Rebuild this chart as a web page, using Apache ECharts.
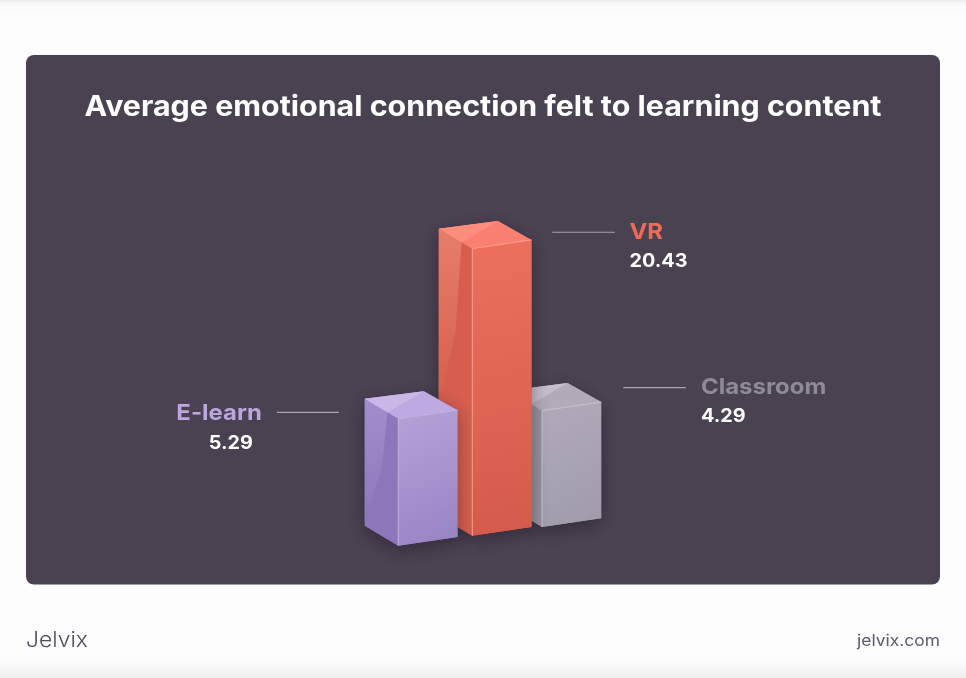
<!DOCTYPE html>
<html>
<head>
<meta charset="utf-8">
<style>html,body{margin:0;padding:0;background:#fdfdfd}#c{width:966px;height:678px}</style>
<script src="https://cdn.jsdelivr.net/npm/echarts@6/dist/echarts.min.js"></script>
</head>
<body>
<div id="c"></div>
<script>
const titleText = 'Average emotional connection felt to learning content';
const categories = ['E-learn', 'VR', 'Classroom'];
const values = [5.29, 20.43, 4.29];
const brandText = 'Jelvix';
const siteText = 'jelvix.com';

const FONT = 'Inter, "Open Sans", sans-serif';
const WIDEN = 1.088; // reference typeface is wider than Inter
// Presentation-only settings for each bar: depth placement, colours, callout placement.
const looks = [
  { dx: 0.3, dy: 0, z: 300, gloss: 122, name: '#bba6de',
    right: ['#b6a2d8', '#9883c4'], left: '#8c77bb', sheen: '#a28ecb', top: '#bfa9e2', wedge: '#c9b7e8', edge: '#c4b2e2',
    line: [-121.5, -59.5, -6.5], nameAt: [-136.5, -5.5], nameAlign: 'right', valueAt: [-167.5, 25], valueAlign: 'center' },
  { dx: 2.3, dy: -10, z: 200, gloss: 177, name: '#ee6c57',
    right: ['#ec705d', '#d45a4a'], left: '#d65e4e', sheen: '#e67d6a', top: '#f98070', wedge: '#ff8d7e', edge: '#f9a193',
    line: [80, 142.5, -16.4], nameAt: [157.2, -16.7], nameAlign: 'left', valueAt: [157.2, 13], valueAlign: 'left' },
  { dx: 0, dy: -18.7, z: 100, gloss: 80, name: '#8f8a99',
    right: ['#b2aaba', '#a09aaa'], left: '#96909f', sheen: '#a7a1af', top: '#b2aab9', wedge: '#c4bec9', edge: '#cbc5cf',
    line: [81.3, 143.7, -23], nameAt: [159, -23.7], nameAlign: 'left', valueAt: [159, 5.3], valueAlign: 'left' }
];

const FACE_W = 59.2, FACE_RISE = 8.7, SIDE_W = 33.5, SIDE_RISE = 20, BACK_W = 25.6;

function poly(points, fill, z2) {
  return { type: 'polygon', z2: z2, shape: { points: points }, style: { fill: fill } };
}

function renderBar(params, api) {
  const i = api.value(0);
  const look = looks[i];
  const topPt = api.coord([i, api.value(1)]);
  const basePt = api.coord([i, -6.7]);
  const h = basePt[1] - topPt[1];
  const fx = topPt[0] + look.dx, fy = topPt[1] + look.dy;
  const z = look.z;

  const F = [fx, fy];
  const R = [fx + FACE_W, fy - FACE_RISE];
  const L = [fx - SIDE_W, fy - SIDE_RISE];
  const B = [fx + BACK_W, fy - FACE_RISE - SIDE_RISE + 1];
  const Fb = [fx, fy + h], Rb = [R[0], R[1] + h], Lb = [L[0], L[1] + h];
  const M = [L[0] + 0.68 * SIDE_W, L[1] + 0.68 * SIDE_RISE];

  const grad = (a, b, x2, y2) => ({ type: 'linear', x: 0, y: 0, x2: x2, y2: y2, colorStops: [{ offset: 0, color: a }, { offset: 1, color: b }] });

  const children = [
    { type: 'polygon', z2: z, shape: { points: [L, B, R, Rb, Fb, Lb] },
      style: { fill: look.left, shadowBlur: 18, shadowColor: 'rgba(20,14,28,0.42)', shadowOffsetX: 0, shadowOffsetY: 5 } },
    poly([F, R, Rb, Fb], grad(look.right[0], look.right[1], 1, 1), z + 1),
    poly([L, F, Fb, Lb], look.left, z + 2),
    poly([L, M, [L[0] + 0.5 * SIDE_W, L[1] + look.gloss * 0.58], [L[0], L[1] + look.gloss]], grad(look.sheen, look.left, 0.25, 1), z + 3),
    poly([L, B, R, F], look.top, z + 4),
    poly([L, B, M], look.wedge, z + 5),
    { type: 'polyline', z2: z + 6, shape: { points: [Fb, F, R] }, style: { fill: 'none', stroke: look.edge, lineWidth: 1 } },
    // callout
    { type: 'line', z2: z + 7, shape: { x1: fx + look.line[0], y1: fy + look.line[2], x2: fx + look.line[1], y2: fy + look.line[2] },
      style: { stroke: '#aaa5b0', lineWidth: 1.2 } },
    { type: 'text', z2: z + 8, x: fx + look.nameAt[0], y: fy + look.nameAt[1], scaleX: WIDEN,
      style: { text: categories[i], fill: look.name, font: '700 22px ' + FONT, align: look.nameAlign, verticalAlign: 'middle' } },
    { type: 'text', z2: z + 8, x: fx + look.valueAt[0], y: fy + look.valueAt[1], scaleX: 1.07,
      style: { text: values[i].toFixed(2), fill: '#ffffff', font: '700 18.5px ' + FONT, align: look.valueAlign, verticalAlign: 'middle' } }
  ];
  return { type: 'group', children: children };
}

const chart = echarts.init(document.getElementById('c'), null, { renderer: 'canvas' });
chart.setOption({
  animation: false,
  backgroundColor: '#fdfdfd',
  grid: { left: 362, top: 252.6, width: 216, height: 293.1 },
  xAxis: { type: 'category', data: categories, show: false },
  yAxis: { type: 'value', min: -6.7, max: 21, show: false },
  graphic: { elements: [
    { type: 'rect', z: -10, shape: { x: 0, y: 0, width: 966, height: 14 },
      style: { fill: { type: 'linear', x: 0, y: 0, x2: 0, y2: 1, colorStops: [{ offset: 0, color: '#ececec' }, { offset: 0.25, color: '#f8f8f8' }, { offset: 1, color: '#fdfdfd' }] } } },
    { type: 'rect', z: -10, shape: { x: 0, y: 660, width: 966, height: 18 },
      style: { fill: { type: 'linear', x: 0, y: 0, x2: 0, y2: 1, colorStops: [{ offset: 0, color: '#fdfdfd' }, { offset: 1, color: '#eeeeee' }] } } },
    { type: 'rect', z: -5, shape: { x: 26, y: 55, width: 914, height: 529.5, r: 8 },
      style: { fill: '#4a4151' } },
    { type: 'text', z: -4, x: 483, y: 108, scaleX: 1.086,
      style: { text: titleText, fill: '#ffffff', font: '700 28px ' + FONT, align: 'center', verticalAlign: 'middle' } },
    { type: 'text', z: -5, x: 26, y: 641, scaleX: 1.09,
      style: { text: brandText, fill: '#4f4b5c', font: '300 21px ' + FONT, align: 'left', verticalAlign: 'middle' } },
    { type: 'text', z: -5, x: 940, y: 641, scaleX: 1.09,
      style: { text: siteText, fill: '#5c5968', font: '400 16px ' + FONT, align: 'right', verticalAlign: 'middle' } }
  ] },
  series: [{
    type: 'custom',
    coordinateSystem: 'cartesian2d',
    clip: false,
    renderItem: renderBar,
    encode: { x: 0, y: 1 },
    data: values.map((v, i) => [i, v])
  }]
});
</script>
</body>
</html>
